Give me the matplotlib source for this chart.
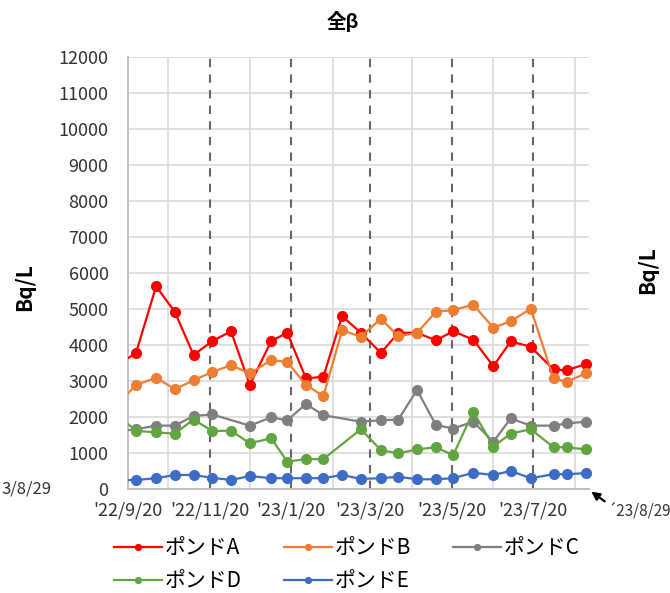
import matplotlib
matplotlib.use('Agg')
import numpy as np
import pandas as pd
import matplotlib.pyplot as plt

plt.rcParams['font.family'] = ['Noto Sans CJK JP', 'DejaVu Sans']

# 採取日（先頭は表示範囲外の前回値）
dates = pd.to_datetime([
    '2022-09-12', '2022-09-26', '2022-10-11', '2022-10-25', '2022-11-08',
    '2022-11-22', '2022-12-06', '2022-12-20', '2023-01-05', '2023-01-17',
    '2023-01-31', '2023-02-13', '2023-02-27', '2023-03-13', '2023-03-28',
    '2023-04-10', '2023-04-24', '2023-05-08', '2023-05-21', '2023-06-05',
    '2023-06-20', '2023-07-03', '2023-07-18', '2023-08-04', '2023-08-14',
    '2023-08-28'])

nan = np.nan
pond_a = [3440, 3780, 5630, 4920, 3720, 4110, 4380, 2890, 4110, 4340, 3070, 3120, 4800,
          4340, 3780, 4340, 4340, 4130, 4380, 4150, 3410, 4100, 3950, 3320, 3300, 3470]
pond_b = [2350, 2890, 3090, 2770, 3020, 3250, 3440, 3210, 3580, 3530, 2890, 2580, 4410,
          4230, 4730, 4240, 4340, 4920, 4970, 5120, 4480, 4660, 5010, 3070, 2980, 3210]
pond_c = [1600, 1660, 1760, 1760, 2030, 2070, nan, 1760, 1990, 1910, 2360, 2050, nan,
          1870, 1910, 1930, 2750, 1780, 1680, 1870, 1310, 1960, 1760, 1760, 1820, 1870]
pond_d = [2050, 1620, 1570, 1540, 1930, 1610, 1620, 1270, 1410, 760, 830, 830, nan,
          1660, 1080, 990, 1100, 1160, 940, 2150, 1180, 1540, 1660, 1160, 1160, 1100]
pond_e = [250, 250, 300, 390, 390, 310, 250, 360, 300, 300, 300, 300, 390,
          280, 300, 340, 270, 270, 300, 450, 390, 500, 300, 410, 410, 440]

names = ['ポンドA', 'ポンドB', 'ポンドC', 'ポンドD', 'ポンドE']
colors = ['#FF0000', '#ED7D31', '#7F7F7F', '#62A442', '#3D6CC4']
series = [pond_a, pond_b, pond_c, pond_d, pond_e]

tick_dates = pd.to_datetime(['2022-09-20', '2022-11-20', '2023-01-20',
                             '2023-03-20', '2023-05-20', '2023-07-20'])
tick_labels = ["'22/9/20", "'22/11/20", "'23/1/20", "'23/3/20", "'23/5/20", "'23/7/20"]
month_lines = pd.to_datetime(['2022-10-20', '2022-12-20', '2023-02-20',
                              '2023-04-20', '2023-06-20', '2023-08-20'])
x_start = pd.Timestamp('2022-09-20')
x_end = pd.Timestamp('2023-08-30 12:00')

fig = plt.figure(figsize=(6.7, 5.93), dpi=100)
ax = fig.add_axes([128 / 670, 1 - 489 / 593, (589 - 128) / 670, (489 - 57) / 593])

handles = []
for vals, name, col in zip(series, names, colors):
    v = np.array(vals, dtype=float)
    ok = ~np.isnan(v)
    d = dates[ok]
    v = v[ok]
    # 前回値からの線は軸の端で切る
    ax.plot(d[:2], v[:2], color=col, lw=1.6, zorder=3)
    h, = ax.plot(d[1:], v[1:], color=col, lw=1.6, marker='o', ms=7,
                 clip_on=False, zorder=3, label=name)
    handles.append(h)

ax.set_xlim(x_start, x_end)
ax.set_ylim(0, 12000)
ax.set_yticks(np.arange(0, 12001, 1000))
ax.set_xticks(tick_dates)
ax.set_xticklabels(tick_labels)
ax.set_xticks(month_lines, minor=True)

ax.grid(axis='y', color='#D9D9D9', lw=1.2, zorder=0)
ax.grid(axis='x', which='minor', color='#D9D9D9', lw=1.2, zorder=0)
for t in tick_dates[1:]:
    ax.axvline(t, color='#666666', lw=1.5, ls=(0, (4, 3.5)), zorder=1)

for s in ['top', 'right']:
    ax.spines[s].set_visible(False)
for s in ['left', 'bottom']:
    ax.spines[s].set_color('#BFBFBF')
    ax.spines[s].set_linewidth(1.4)
ax.tick_params(which='both', length=0, labelsize=13, colors='#333333')
ax.tick_params(axis='y', pad=14)
ax.tick_params(axis='x', pad=9)
ax.set_axisbelow(True)

fig.text(343 / 670, 1 - 22 / 593, '全β', ha='center', va='center',
         fontsize=14, fontweight='bold')
fig.text(25 / 670, 1 - 287 / 593, 'Bq/L', rotation=90, ha='center', va='center',
         fontsize=15, fontweight='bold')
fig.text(648 / 670, 1 - 270 / 593, 'Bq/L', rotation=90, ha='center', va='center',
         fontsize=15, fontweight='bold')

# 隣のグラフの終了日ラベル
fig.text(1 / 670, 1 - 489 / 593, '3/8/29', ha='left', va='center',
         fontsize=12, color='#333333')
fig.text(607 / 670, 1 - 511 / 593, '´23/8/29', ha='left', va='center',
         fontsize=11, color='#333333')
fig.add_artist(matplotlib.patches.FancyArrowPatch(
    (607 / 670, 1 - 503 / 593), (589 / 670, 1 - 490 / 593),
    transform=fig.transFigure, arrowstyle='-|>', mutation_scale=12,
    color='black', lw=1.6))

order = [0, 3, 1, 4, 2]
fig.legend([handles[i] for i in order], [names[i] for i in order],
           loc='upper left', bbox_to_anchor=(114 / 670, 1 - 537 / 593),
           ncol=3, frameon=False, fontsize=15, handlelength=2.3,
           handletextpad=0.15, columnspacing=2.0, labelspacing=0.55,
           markerscale=0.6, borderpad=0, borderaxespad=0)

fig.savefig('out.png', dpi=100)
